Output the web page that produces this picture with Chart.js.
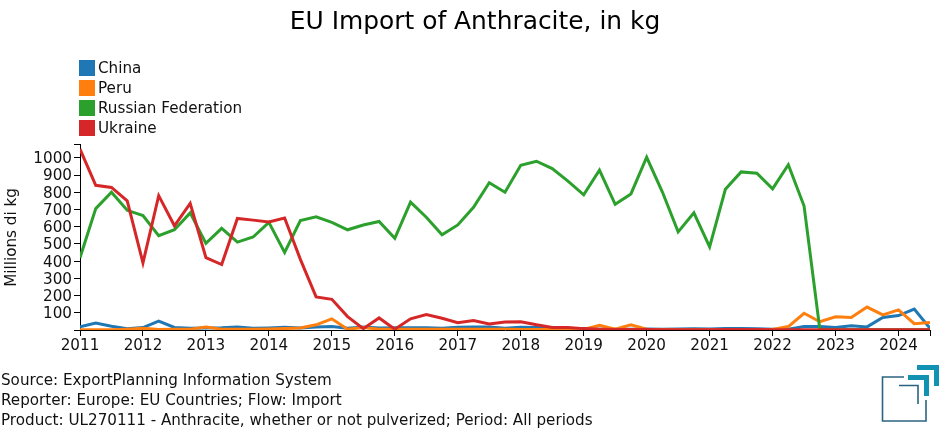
<!DOCTYPE html>
<html>
<head>
<meta charset="utf-8">
<title>EU Import of Anthracite, in kg</title>
<script src="https://cdn.jsdelivr.net/npm/chart.js@4/dist/chart.umd.min.js"></script>
<style>
    body { margin: 0; background: #fff; font-family: 'DejaVu Sans', sans-serif; color: #111; }
    #wrap { position: relative; width: 950px; height: 435px; overflow: hidden; }
    #importChart { position: absolute; left: 0; top: 0; }
    #legend { position: absolute; left: 79px; top: 58px; font-size: 15.2px; }
    .legend-row { display: flex; align-items: center; height: 20px; }
    .legend-box { width: 14px; height: 14px; border-width: 1px; border-style: solid; margin-right: 3px; }
    #source { position: absolute; left: 1px; top: 370px; font-size: 15.17px; line-height: 20px; white-space: nowrap; }
    #logo { position: absolute; left: 870px; top: 360px; }
</style>
</head>
<body>
<div id="wrap">
    <canvas id="importChart" width="950" height="435"></canvas>
    <div id="legend"></div>
    <div id="source"></div>
    <svg id="logo" width="80" height="70" viewBox="870 360 80 70" fill="none">
        <path d="M904 377H882.5V421H926V400" stroke="#2b6480" stroke-width="1.6"/>
        <path d="M899 385.5H918V404" stroke="#2b6480" stroke-width="1.6"/>
        <path d="M908 377.5H926.5V396" stroke="#1292b2" stroke-width="5"/>
        <path d="M917 367.5H936.5V386" stroke="#1292b2" stroke-width="5"/>
    </svg>
</div>
<script>
// Data
const periods = [
    2011, 2011.25, 2011.5, 2011.75, 2012, 2012.25, 2012.5, 2012.75,
    2013, 2013.25, 2013.5, 2013.75, 2014, 2014.25, 2014.5, 2014.75,
    2015, 2015.25, 2015.5, 2015.75, 2016, 2016.25, 2016.5, 2016.75,
    2017, 2017.25, 2017.5, 2017.75, 2018, 2018.25, 2018.5, 2018.75,
    2019, 2019.25, 2019.5, 2019.75, 2020, 2020.25, 2020.5, 2020.75,
    2021, 2021.25, 2021.5, 2021.75, 2022, 2022.25, 2022.5, 2022.75,
    2023, 2023.25, 2023.5, 2023.75, 2024, 2024.25, 2024.5
];
const china = [
    18, 40, 22, 8, 14, 52, 15, 10,
    12, 13, 18, 10, 12, 16, 12, 17,
    20, 10, 18, 12, 13, 13, 13, 10,
    16, 18, 18, 10, 16, 14, 10, 8,
    8, 5, 4, 4, 6, 4, 6, 7,
    6, 8, 9, 7, 5, 5, 20, 20,
    15, 24, 18, 73, 84, 121, 10
];
const peru = [
    2, 2, 2, 5, 10, 3, 4, 5,
    18, 5, 5, 5, 6, 8, 12, 30,
    65, 4, 15, 5, 4, 4, 4, 4,
    4, 4, 4, 4, 3, 3, 3, 3,
    3, 27, 4, 30, 4, 2, 2, 2,
    2, 2, 2, 2, 3, 20, 97, 48,
    77, 73, 133, 88, 117, 37, 43
];
const russia = [
    420, 705, 800, 695, 665, 548, 582, 680,
    503, 590, 510, 540, 625, 450, 635, 657,
    625, 582, 610, 630, 532, 743, 655, 553,
    610, 713, 855, 800, 957, 980, 937, 865,
    785, 928, 730, 790, 1003, 801, 570, 680,
    482, 817, 918, 910, 820, 960, 720, 5,
    2, 1, 1, 1, 1, 1, 1
];
const ukraine = [
    1050, 840, 828, 750, 390, 780, 605, 735,
    420, 380, 648, 638, 627, 650, 410, 192,
    178, 78, 8, 70, 5, 65, 90, 68,
    42, 55, 35, 47, 48, 30, 15, 15,
    8, 5, 3, 3, 3, 2, 2, 2,
    2, 3, 3, 3, 2, 2, 2, 2,
    2, 2, 2, 2, 2, 2, 2
];
const seriesNames = ['China', 'Peru', 'Russian Federation', 'Ukraine'];
const seriesValues = [china, peru, russia, ukraine];
const seriesColors = ['#1f77b4', '#ff7f0e', '#2ca02c', '#d62728'];
const xTicks = [2011, 2012, 2013, 2014, 2015, 2016, 2017, 2018, 2019, 2020, 2021, 2022, 2023, 2024, 2024.5];
const yTicks = [0, 100, 200, 300, 400, 500, 600, 700, 800, 900, 1000, 1075];
const sourceLines = [
    'Source: ExportPlanning Information System',
    'Reporter: Europe: EU Countries; Flow: Import',
    'Product: UL270111 - Anthracite, whether or not pulverized; Period: All periods'
];

const FONT = "'DejaVu Sans', sans-serif";
const TICK_SIZE = 15.2;

// Legend and footer as plain html
document.getElementById('legend').innerHTML = seriesNames.map((name, i) =>
    `<div class="legend-row"><span class="legend-box" style="background:${seriesColors[i]};border-color:${seriesColors[i]}99"></span>${name}</div>`
).join('');
document.getElementById('source').innerHTML = sourceLines.map(l => `<div>${l}</div>`).join('');

new Chart(document.getElementById('importChart').getContext('2d'), {
    type: 'line',
    data: {
        datasets: seriesNames.map((name, i) => ({
            label: name,
            data: periods.map((p, j) => ({ x: p, y: seriesValues[i][j] })),
            borderColor: seriesColors[i],
            backgroundColor: seriesColors[i],
            borderWidth: 3,
            borderJoinStyle: 'miter',
            pointRadius: 0,
            tension: 0,
            order: seriesNames.length - i // later series on top
        }))
    },
    options: {
        responsive: false,
        animation: false,
        layout: { padding: { left: 0, right: 0, top: 0, bottom: 80 } },
        plugins: {
            legend: { display: false },
            tooltip: { enabled: false },
            title: {
                display: true,
                text: 'EU Import of Anthracite, in kg',
                color: '#000',
                font: { family: FONT, size: 24.9, weight: 'normal' },
                padding: { top: 8, bottom: 107 }
            }
        },
        scales: {
            x: {
                type: 'linear',
                min: 2011,
                max: 2024.5,
                afterFit: axis => { axis.height = 25; },
                afterBuildTicks: axis => { axis.ticks = xTicks.map(value => ({ value })); },
                border: { color: '#000', width: 1 },
                grid: { drawOnChartArea: false, tickLength: 6, tickColor: '#000' },
                ticks: {
                    autoSkip: false,
                    maxRotation: 0,
                    color: '#111',
                    padding: 1,
                    font: { family: FONT, size: TICK_SIZE },
                    callback: v => Number.isInteger(v) ? String(v) : ''
                }
            },
            y: {
                min: 0,
                max: 1075,
                afterFit: axis => { axis.width = 80; },
                afterBuildTicks: axis => { axis.ticks = yTicks.map(value => ({ value })); },
                border: { color: '#000', width: 1 },
                grid: { drawOnChartArea: false, tickLength: 6, tickColor: '#000' },
                title: {
                    display: true,
                    text: 'Millions di kg',
                    color: '#111',
                    font: { family: FONT, size: TICK_SIZE },
                    padding: { top: 3, bottom: 0 }
                },
                ticks: {
                    autoSkip: false,
                    color: '#111',
                    padding: 2,
                    labelOffset: 1.5,
                    font: { family: FONT, size: TICK_SIZE },
                    callback: v => (v === 0 || v === 1075) ? '' : String(v)
                }
            },
            // empty axis that only keeps the right margin, so the title stays centred on the page
            margin: {
                position: 'right',
                afterFit: axis => { axis.width = 20; },
                border: { display: false },
                grid: { display: false },
                ticks: { display: false }
            }
        }
    }
});
</script>
</body>
</html>
